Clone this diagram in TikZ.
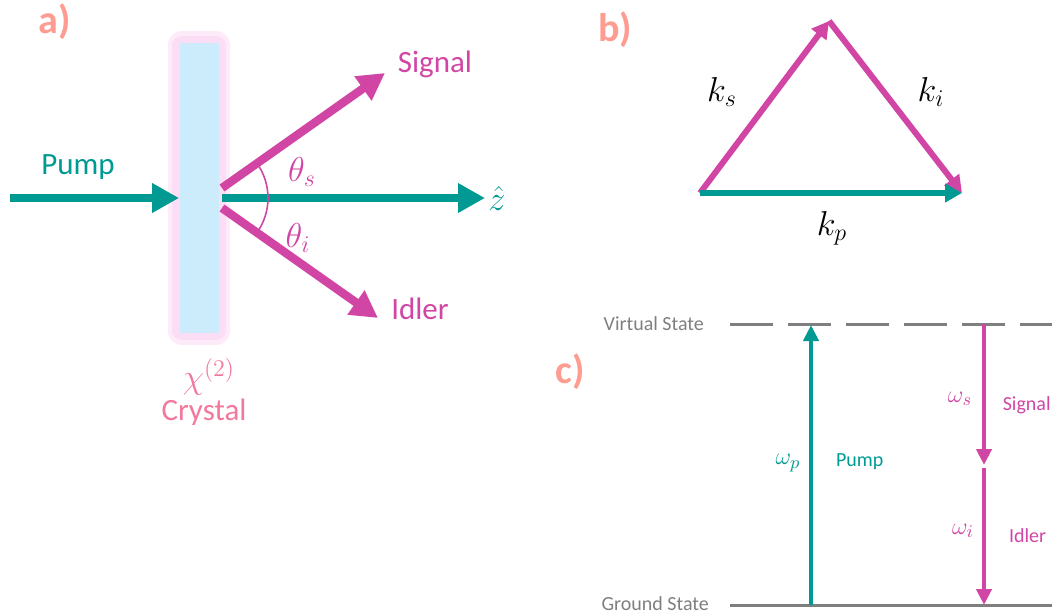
\documentclass[tikz,border=0pt]{standalone}
\usepackage{fontspec}
\setmainfont{Carlito}
\usepackage{tikz}
\usetikzlibrary{arrows.meta,positioning}
\definecolor{figTeal}{HTML}{009A93}
\definecolor{figMag}{HTML}{D146A4}
\definecolor{figSalmon}{HTML}{FF9C92}
\definecolor{figPink}{HTML}{F2789C}
\definecolor{figGlow}{HTML}{FBDDF6}
\definecolor{figIce}{HTML}{CCEBFB}
\definecolor{figGray}{HTML}{7F7F7F}

\begin{document}
\begin{tikzpicture}[
  x=0.5pt, y=-0.5pt,
  panel/.style={font=\fontsize{20}{22}\selectfont\bfseries, text=figSalmon},
  biglbl/.style={font=\fontsize{15.5}{17}\selectfont},
  smalllbl/.style={font=\fontsize{10}{12}\selectfont},
  mathlbl/.style={font=\fontsize{17}{19}\selectfont},
  smallmath/.style={font=\fontsize{12.5}{14}\selectfont},
  beam/.style={line width=4.2pt, -{Triangle[length=13.5pt,width=14pt]}},
  kvec/.style={line width=3pt, -{Triangle[length=8.5pt,width=9pt]}},
  level/.style={line width=1.5pt, figGray},
  trans/.style={line width=2.2pt, -{Triangle[length=8pt,width=7.5pt]}}
]
\useasboundingbox (0,0) rectangle (1052,615);

% a) crystal and beams
\node[panel] (la) at (55,22) {a)};
\node[fill=figGlow!60, rounded corners=7pt, minimum width=31pt, minimum height=157pt,
  inner sep=0pt] (glow2) at (199,188) {};
\node[fill=figGlow, rounded corners=5pt, minimum width=27pt, minimum height=152pt,
  inner sep=0pt] (glow) at (199,188) {};
\node[fill=figIce, minimum width=19.5pt, minimum height=144.5pt,
  inner sep=0pt] (crys) at (199,188) {};
\node[mathlbl, text=figPink] (chi) at (209,377) {$\chi^{(2)}$};
\node[biglbl, text=figPink] (crlbl) at (204,412) {Crystal};

\coordinate (pin) at (10,198);
\coordinate (o) at (222,198);
\coordinate (apex) at (208,198);
\coordinate (sout) at (222,188);
\coordinate (iout) at (222,208);
\coordinate (zend) at (485,198);
\coordinate (send) at (385,73);
\coordinate (iend) at (378,318);

\draw[beam, figTeal] (pin) -- (pin -| crys.west);
\draw[beam, figTeal] (o) -- (zend);
\draw[beam, figMag] (sout) -- (send);
\draw[beam, figMag] (iout) -- (iend);
\draw[figMag, line width=0.8pt] (apex) ++(-35:30pt) arc[start angle=-35, end angle=35, radius=30pt];

\node[biglbl, text=figTeal] (pumpa) at (78,167) {Pump};
\node[biglbl, text=figMag] (siga) at (435,64) {Signal};
\node[biglbl, text=figMag] (idla) at (420,309) {Idler};
\node[mathlbl, text=figTeal, anchor=west, inner sep=1pt] (zhat) at (486,198) {$\hat{z}$};
\node[mathlbl, text=figMag] (ths) at (302,172) {$\theta_s$};
\node[mathlbl, text=figMag] (thi) at (298,238) {$\theta_i$};

% b) momentum triangle
\node[panel] (lb) at (615,30) {b)};
\coordinate (kl) at (700,193);
\coordinate (kt) at (829,21);
\coordinate (kr) at (962,193);
\draw[kvec, figMag] (kl) -- (kt);
\draw[kvec, figMag] (kt) -- (kr);
\draw[kvec, figTeal] (kl) -- (kr);
\node[mathlbl] (ks) at (722,92) {$k_s$};
\node[mathlbl] (ki) at (931,92) {$k_i$};
\node[mathlbl] (kp) at (832,228) {$k_p$};

% c) energy levels
\node[panel] (lc) at (570,372) {c)};
\node[smalllbl, text=figGray, anchor=east] (vs) at (711,324) {Virtual State};
\node[smalllbl, text=figGray, anchor=east] (gs) at (716,604) {Ground State};
\coordinate (v0) at (730,324);
\coordinate (v1) at (1052,324);
\coordinate (g0) at (730,605);
\coordinate (g1) at (1052,605);
\draw[level, dash pattern=on 21.5pt off 7.5pt] (v0) -- (v1);
\draw[level] (g0) -- (g1);

\coordinate (pb) at (811,605);
\coordinate (pt) at (811,325);
\coordinate (sv) at (984,324);
\coordinate (sm) at (984,465);
\coordinate (im) at (984,468);
\coordinate (ib) at (984,605);
\draw[trans, figTeal] (pb) -- (pt);
\draw[trans, figMag] (sv) -- (sm);
\draw[trans, figMag] (im) -- (ib);

\node[smallmath, text=figTeal] (wp) at (788,463) {$\omega_p$};
\node[smalllbl, text=figTeal, anchor=west] (pumpc) at (829,462) {Pump};
\node[smallmath, text=figMag] (ws) at (960,399) {$\omega_s$};
\node[smalllbl, text=figMag, anchor=east, inner sep=0.5pt] (sigc) at (1052,405) {Signal};
\node[smallmath, text=figMag] (wi) at (963,531) {$\omega_i$};
\node[smalllbl, text=figMag, anchor=west] (idlc) at (1002,536) {Idler};

\end{tikzpicture}
\end{document}
